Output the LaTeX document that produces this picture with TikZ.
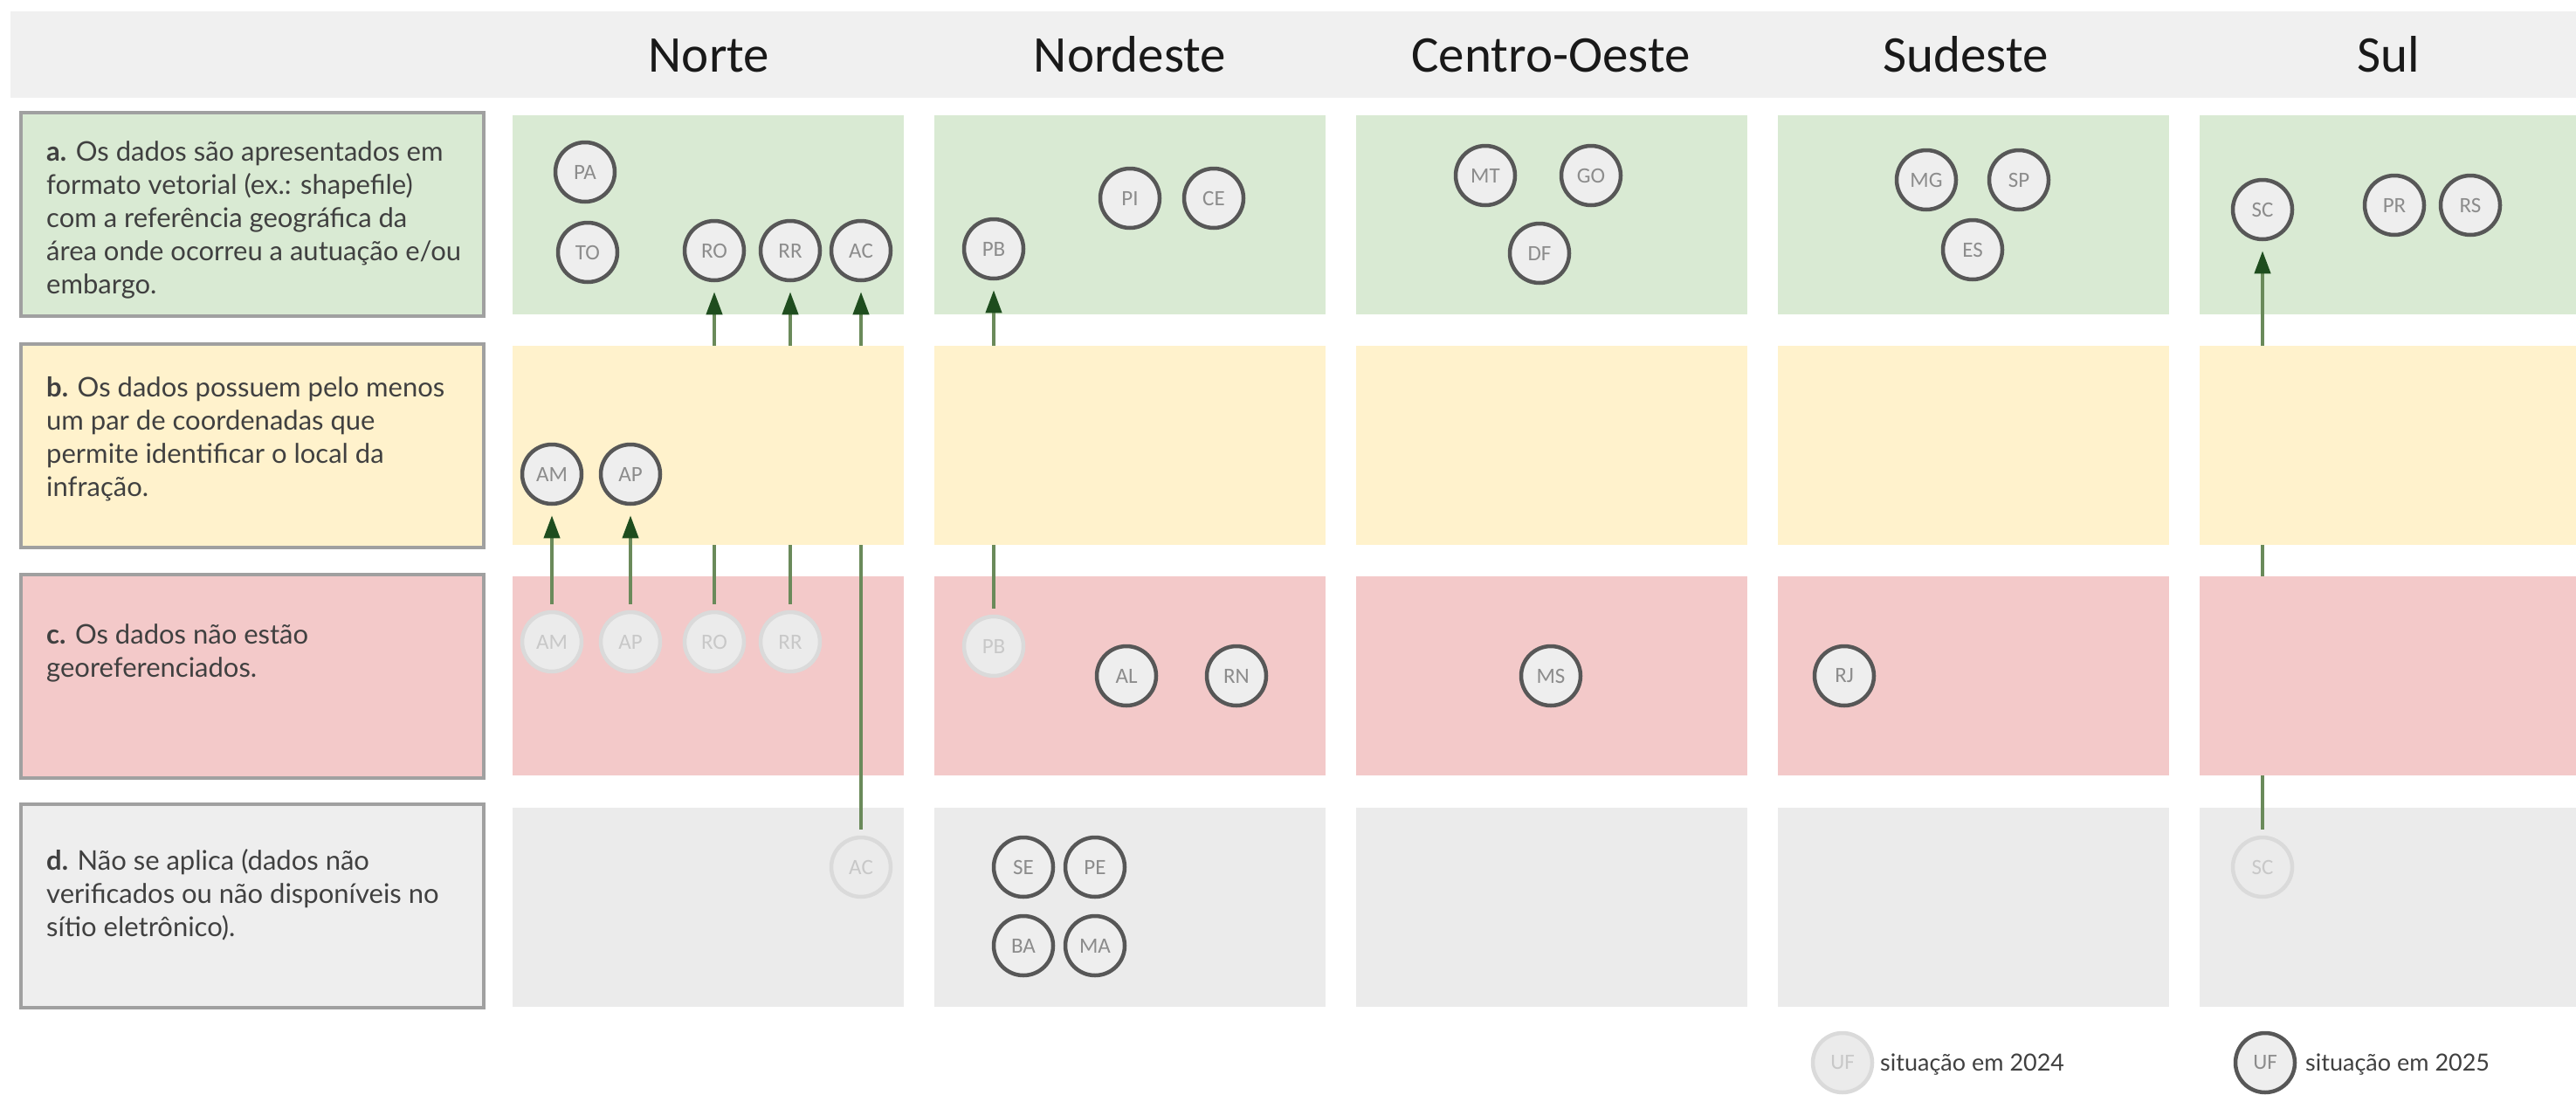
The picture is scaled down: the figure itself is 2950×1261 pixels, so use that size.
\documentclass[tikz,border=0pt]{standalone}
\usepackage{fontspec}
\setmainfont{Lato}
\newfontfamily\titlefont{Carlito}
\newfontfamily\ufont{Carlito}
\usetikzlibrary{arrows.meta}
\definecolor{hdr}{HTML}{F0F0F0}
\definecolor{cgreen}{HTML}{D9EAD3}
\definecolor{cyellow}{HTML}{FFF2CC}
\definecolor{cpink}{HTML}{F3C9C9}
\definecolor{cgray}{HTML}{EBEBEB}
\definecolor{lgray}{HTML}{EEEEEE}
\definecolor{lborder}{HTML}{A0A0A0}
\definecolor{txt}{HTML}{404040}
\definecolor{cfill}{HTML}{EEEEEE}
\definecolor{cb25}{HTML}{575757}
\definecolor{ct25}{HTML}{8C8C8C}
\definecolor{cfill24}{HTML}{EBEBEB}
\definecolor{cb24}{HTML}{DADADA}
\definecolor{ct24}{HTML}{C8C8C8}
\definecolor{lgreen}{HTML}{6A8A5A}
\definecolor{dgreen}{HTML}{1E4D1E}
\pgfdeclarelayer{bg}
\pgfdeclarelayer{cover}
\pgfdeclarelayer{top}
\pgfdeclarelayer{nodes}
\pgfsetlayers{bg,main,cover,top,nodes}
\tikzset{
  s25/.style={circle, draw=cb25, line width=4.5pt, fill=cfill, minimum size=68pt, inner sep=0pt, text=ct25, font=\ufont\fontsize{25}{25}\selectfont},
  s24/.style={circle, draw=cb24, line width=4.5pt, fill=cfill24, minimum size=68pt, inner sep=0pt, text=ct24, font=\ufont\fontsize{25}{25}\selectfont},
  mv/.style={draw=lgreen, line width=4pt, -{Triangle[length=26pt,width=18pt,color=dgreen]}, shorten >=11pt, shorten <=7pt},
  ttl/.style={anchor=base, text=black!90, font=\titlefont\fontsize{59}{59}\selectfont},
  lbox/.style={draw=lborder, line width=3.5pt},
  ltxt/.style={anchor=north west, align=left, inner sep=0pt, text=txt, font=\fontsize{31}{38}\selectfont},
  legtxt/.style={anchor=west, inner sep=0pt, text=txt, font=\fontsize{27}{27}\selectfont}
}
\begin{document}
\begin{tikzpicture}[x=1pt,y=-1pt]
\useasboundingbox (0,0) rectangle (2950,1261);
\begin{pgfonlayer}{bg}
\fill[white] (0,0) rectangle (2950,1261);
\fill[hdr] (12,13) rectangle (2950,112);
\foreach \x in {587,1070,1553,2036,2519}{
  \fill[cgreen]  (\x,132) rectangle ++(448,228);
  \fill[cyellow] (\x,396) rectangle ++(448,228);
  \fill[cpink]   (\x,660) rectangle ++(448,228);
  \fill[cgray]   (\x,925) rectangle ++(448,228);
}
\draw[lbox, fill=cgreen]  (24,129) rectangle (554,362);
\draw[lbox, fill=cyellow] (24,394) rectangle (554,627);
\draw[lbox, fill=cpink]   (24,658) rectangle (554,891);
\draw[lbox, fill=lgray]   (24,921) rectangle (554,1154);
\end{pgfonlayer}
\begin{pgfonlayer}{cover}
\fill[cyellow] (587,396) rectangle ++(448,228);
\fill[cyellow] (1070,396) rectangle ++(448,228);
\fill[cyellow] (2519,396) rectangle ++(448,228);
\fill[cpink]   (2519,660) rectangle ++(448,228);
\end{pgfonlayer}
% titles
\node[ttl] (tN)  at (812,82)  {Norte};
\node[ttl] (tNE) at (1294,82) {Nordeste};
\node[ttl] (tCO) at (1776,82) {Centro-Oeste};
\node[ttl] (tSE) at (2251,82) {Sudeste};
\node[ttl] (tS)  at (2735,82) {Sul};
% row labels
\node[ltxt] (la) at (53,161) {\textbf{a.} Os dados são apresentados em\\formato vetorial (ex.: shapefile)\\com a referência geográfica da\\área onde ocorreu a autuação e/ou\\embargo.};
\node[ltxt] (lb) at (53,431) {\textbf{b.} Os dados possuem pelo menos\\um par de coordenadas que\\permite identificar o local da\\infração.};
\node[ltxt] (lc) at (53,714) {\textbf{c.} Os dados não estão\\georeferenciados.};
\node[ltxt] (ld) at (53,972) {\textbf{d.} Não se aplica (dados não\\verificados ou não disponíveis no\\sítio eletrônico).};
\begin{pgfonlayer}{nodes}
% Norte
\node[s25] (PA) at (670,197) {PA};
\node[s25] (TO) at (673,289) {TO};
\node[s25] (RO) at (818,287) {RO};
\node[s25] (RR) at (905,287) {RR};
\node[s25] (AC) at (986,287) {AC};
\node[s25] (AM) at (632,543) {AM};
\node[s25] (AP) at (722,543) {AP};
\node[s24] (AM24) at (632,735) {AM};
\node[s24] (AP24) at (722,735) {AP};
\node[s24] (RO24) at (818,735) {RO};
\node[s24] (RR24) at (905,735) {RR};
\node[s24] (AC24) at (986,993) {AC};
% Nordeste
\node[s25] (PI) at (1294,227) {PI};
\node[s25] (CE) at (1390,227) {CE};
\node[s25] (PB) at (1138,285) {PB};
\node[s24] (PB24) at (1138,740) {PB};
\node[s25] (AL) at (1290,774) {AL};
\node[s25] (RN) at (1416,774) {RN};
\node[s25] (SE) at (1172,993) {SE};
\node[s25] (PE) at (1254,993) {PE};
\node[s25] (BA) at (1172,1083) {BA};
\node[s25] (MA) at (1254,1083) {MA};
% Centro-Oeste
\node[s25] (MT) at (1701,201) {MT};
\node[s25] (GO) at (1822,201) {GO};
\node[s25] (DF) at (1763,290) {DF};
\node[s25] (MS) at (1776,774) {MS};
% Sudeste
\node[s25] (MG) at (2206,206) {MG};
\node[s25] (SP) at (2312,206) {SP};
\node[s25] (ES) at (2259,286) {ES};
\node[s25] (RJ) at (2112,774) {RJ};
% Sul
\node[s25] (SC) at (2591,240) {SC};
\node[s25] (PR) at (2742,235) {PR};
\node[s25] (RS) at (2829,235) {RS};
\node[s24] (SC24) at (2591,993) {SC};
% legend
\node[s24] (L24) at (2110,1217) {UF};
\node[s25] (L25) at (2594,1217) {UF};
\end{pgfonlayer}
\node[legtxt] (t24) at (2153,1219) {situação em 2024};
\node[legtxt] (t25) at (2640,1219) {situação em 2025};
% transitions hidden behind some panels
\draw[mv] (RO24) -- (RO);
\draw[mv] (RR24) -- (RR);
\draw[mv] (AC24) -- (AC);
\draw[mv] (PB24) -- (PB);
\draw[mv] (SC24) -- (SC);
\begin{pgfonlayer}{top}
\draw[mv] (AM24) -- (AM);
\draw[mv] (AP24) -- (AP);
\end{pgfonlayer}
\end{tikzpicture}
\end{document}
